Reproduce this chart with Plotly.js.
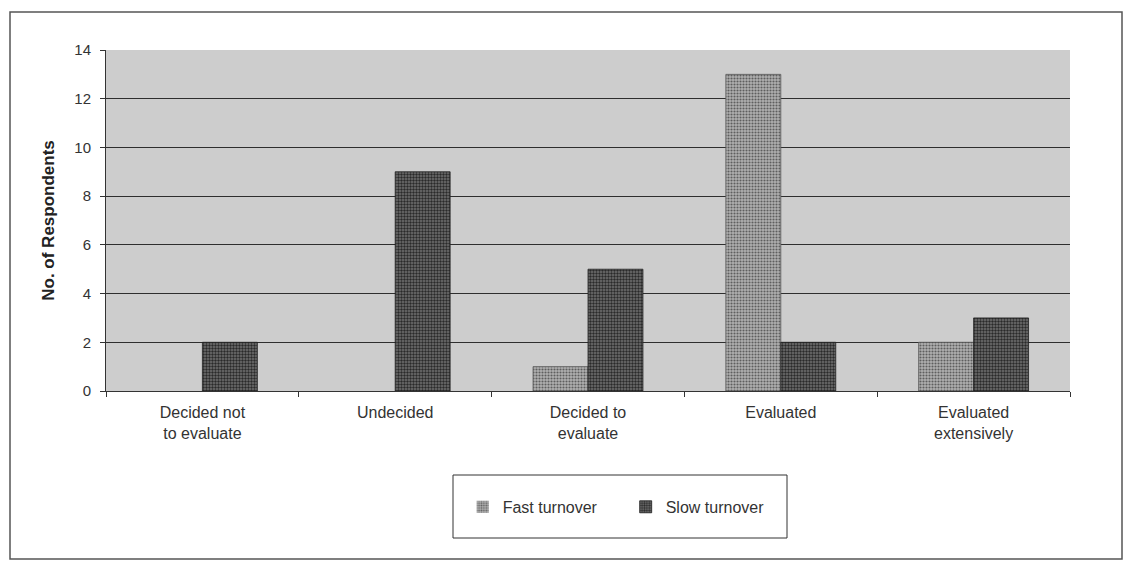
<!DOCTYPE html>
<html>
<head>
<meta charset="utf-8">
<script src="https://cdn.plot.ly/plotly-3.0.1.min.js"></script>
<style>
  html, body { margin: 0; padding: 0; background: #ffffff; }
  #chart { width: 1125px; height: 561px; }
</style>
</head>
<body>
<div id="chart"></div>
<script>
// Stages of evaluation and respondent counts per turnover group
const categories = ["Decided not<br>to evaluate", "Undecided", "Decided to<br>evaluate", "Evaluated", "Evaluated<br>extensively"];
const fastTurnover = [0, 0, 1, 13, 2];
const slowTurnover = [2, 9, 5, 2, 3];
const yTicks = [0, 2, 4, 6, 8, 10, 12, 14];

const font = "Liberation Sans, Arial, sans-serif";

// no outline on empty bars
const edge = vals => vals.map(v => (v > 0 ? 0.8 : 0));

const traces = [
  {
    type: "bar",
    name: "Fast turnover",
    x: categories,
    y: fastTurnover,
    marker: {
      color: "#9a9a9a",
      line: { color: "#555555", width: edge(fastTurnover) },
      pattern: { shape: ".", fgcolor: "#5e5e5e", bgcolor: "#b0b0b0", size: 3, solidity: 0.4 }
    },
    hoverinfo: "skip"
  },
  {
    type: "bar",
    name: "Slow turnover",
    x: categories,
    y: slowTurnover,
    marker: {
      color: "#4a4a4a",
      line: { color: "#222222", width: edge(slowTurnover) },
      pattern: { shape: ".", fgcolor: "#2a2a2a", bgcolor: "#727272", size: 3, solidity: 0.5 }
    },
    hoverinfo: "skip"
  }
];

const layout = {
  width: 1125,
  height: 561,
  margin: { l: 106, r: 55, t: 50, b: 170 },
  paper_bgcolor: "#ffffff",
  plot_bgcolor: "#cdcdcd",
  barmode: "group",
  bargap: 0.43,
  bargroupgap: 0,
  font: { family: font, color: "#222222", size: 15 },
  showlegend: true,
  legend: {
    orientation: "h",
    x: 0.37,
    xanchor: "left",
    y: -0.29,
    yanchor: "top",
    font: { family: font, size: 16, color: "#333333" },
    bgcolor: "rgba(0,0,0,0)",
    borderwidth: 0,
    entrywidth: 118,
    itemwidth: 30
  },
  xaxis: {
    type: "category",
    showline: true,
    linecolor: "#333333",
    linewidth: 1,
    ticks: "outside",
    tickson: "boundaries",
    ticklen: 5,
    tickcolor: "#333333",
    ticklabelstandoff: 7,
    tickfont: { family: font, size: 16, color: "#333333" },
    showgrid: false,
    fixedrange: true
  },
  yaxis: {
    range: [0, 14],
    tickvals: yTicks,
    ticktext: yTicks.map(String),
    showline: true,
    linecolor: "#333333",
    linewidth: 1,
    ticks: "outside",
    ticklen: 5,
    tickcolor: "#333333",
    ticklabelstandoff: 6,
    tickfont: { family: font, size: 15, color: "#333333" },
    showgrid: true,
    gridcolor: "#2e2e2e",
    gridwidth: 1.2,
    zeroline: false,
    title: { text: "No. of Respondents", font: { family: font, size: 17, color: "#222222", weight: "bold" }, standoff: 15 },
    fixedrange: true
  },
  shapes: [
    // outer frame around the whole figure
    {
      type: "rect", xref: "paper", yref: "paper", layer: "below",
      x0: -96 / 964, x1: 1016 / 964, y0: -168 / 341, y1: 379 / 341,
      line: { color: "#555555", width: 1.5 }, fillcolor: "rgba(0,0,0,0)"
    },
    // legend box
    {
      type: "rect", xref: "paper", yref: "paper", layer: "below",
      x0: 347 / 964, x1: 681 / 964, y0: -147 / 341, y1: -84 / 341,
      line: { color: "#333333", width: 1 }, fillcolor: "rgba(0,0,0,0)"
    }
  ]
};

Plotly.newPlot("chart", traces, layout, { displayModeBar: false, staticPlot: true });
</script>
</body>
</html>
